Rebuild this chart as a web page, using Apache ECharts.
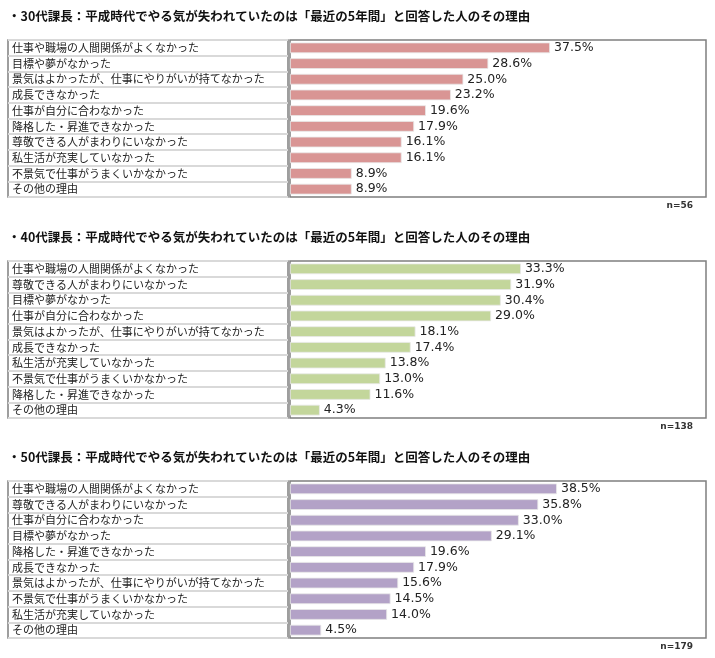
<!DOCTYPE html><html><head><meta charset="utf-8"><script src="https://cdn.jsdelivr.net/npm/echarts@6/dist/echarts.min.js"></script></head><body style="margin:0;background:#fff"><div id="c" style="width:715px;height:658px"></div><script>
const titles=["・30代課長：平成時代でやる気が失われていたのは「最近の5年間」と回答した人のその理由","・40代課長：平成時代でやる気が失われていたのは「最近の5年間」と回答した人のその理由","・50代課長：平成時代でやる気が失われていたのは「最近の5年間」と回答した人のその理由"];
const nLabels=["n=56","n=138","n=179"];
const cats30=["仕事や職場の人間関係がよくなかった","目標や夢がなかった","景気はよかったが、仕事にやりがいが持てなかった","成長できなかった","仕事が自分に合わなかった","降格した・昇進できなかった","尊敬できる人がまわりにいなかった","私生活が充実していなかった","不景気で仕事がうまくいかなかった","その他の理由"];
const vals30=[37.5,28.6,25.0,23.2,19.6,17.9,16.1,16.1,8.9,8.9];
const cats40=["仕事や職場の人間関係がよくなかった","尊敬できる人がまわりにいなかった","目標や夢がなかった","仕事が自分に合わなかった","景気はよかったが、仕事にやりがいが持てなかった","成長できなかった","私生活が充実していなかった","不景気で仕事がうまくいかなかった","降格した・昇進できなかった","その他の理由"];
const vals40=[33.3,31.9,30.4,29.0,18.1,17.4,13.8,13.0,11.6,4.3];
const cats50=["仕事や職場の人間関係がよくなかった","尊敬できる人がまわりにいなかった","仕事が自分に合わなかった","目標や夢がなかった","降格した・昇進できなかった","成長できなかった","景気はよかったが、仕事にやりがいが持てなかった","不景気で仕事がうまくいかなかった","私生活が充実していなかった","その他の理由"];
const vals50=[38.5,35.8,33.0,29.1,19.6,17.9,15.6,14.5,14.0,4.5];
const sets=[[cats30,vals30,'#d99594'],[cats40,vals40,'#c3d69b'],[cats50,vals50,'#b3a2c7']];
const tops=[40,261,481], H=157;
const F='"Noto Sans CJK JP",sans-serif';
const grid=[],xAxis=[],yAxis=[],series=[],graphic=[];
sets.forEach((s,i)=>{
 const t=tops[i];
 grid.push({left:8,top:t,width:280,height:H,show:true,borderColor:'#7f7f7f',borderWidth:1.5});
 grid.push({left:290,top:t,width:416,height:H,show:true,borderColor:'#7f7f7f',borderWidth:1.5});
 xAxis.push({gridIndex:2*i,type:'value',min:0,max:1,show:false});
 xAxis.push({gridIndex:2*i+1,type:'value',min:0,max:60,show:false});
 yAxis.push({gridIndex:2*i,type:'category',inverse:true,data:s[0],axisLine:{show:false},axisTick:{show:false},splitLine:{show:true,lineStyle:{color:'#d9d9d9',width:2}},axisLabel:{inside:true,margin:4,fontSize:11,color:'#222',fontFamily:F}});
 yAxis.push({gridIndex:2*i+1,type:'category',inverse:true,data:s[0],show:false});
 series.push({type:'bar',xAxisIndex:2*i+1,yAxisIndex:2*i+1,data:s[1],barCategoryGap:'32%',itemStyle:{color:s[2],borderColor:'#e8e8e8',borderWidth:0.8},label:{show:true,position:'right',distance:4,formatter:p=>p.value.toFixed(1)+'%',fontSize:12.5,color:'#222',fontFamily:'DejaVu Sans'},silent:true});
 graphic.push({type:'text',left:8,top:t-30,style:{text:titles[i],font:'bold 12.5px '+F,fill:'#111'}});
 graphic.push({type:'text',right:22,top:t+H+4,style:{text:nLabels[i],font:'bold 9px DejaVu Sans',fill:'#333'}});
});
const ch=echarts.init(document.getElementById('c'));
ch.setOption({animation:false,grid,xAxis,yAxis,series,graphic});
</script></body></html>
